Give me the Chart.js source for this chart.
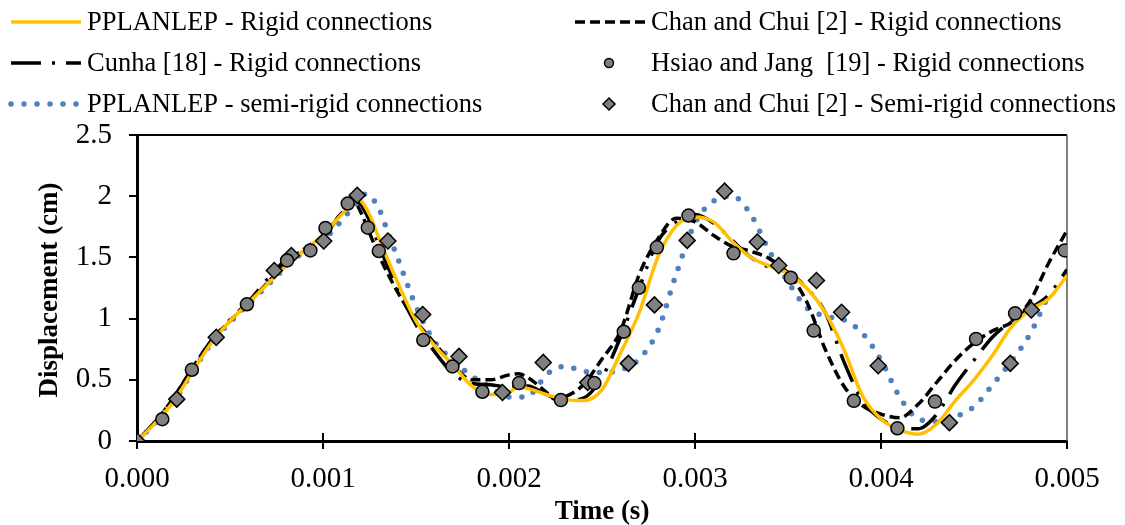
<!DOCTYPE html>
<html>
<head>
<meta charset="utf-8">
<script src="https://cdn.jsdelivr.net/npm/chart.js@4"></script>
<style>
  html, body { margin: 0; padding: 0; background: #fff; }
  #wrap { width: 1125px; height: 525px; }
</style>
</head>
<body>
<div id="wrap"><canvas id="chart"></canvas></div>
<script>
// time (s) and displacement (cm)
const timeRigid = [0, 0.0001, 0.0002, 0.0003, 0.0004, 0.0005, 0.0006, 0.0007, 0.0008, 0.0009, 0.001, 0.0011, 0.00119, 0.00125, 0.0013, 0.0014, 0.0015, 0.0016, 0.0017, 0.0018, 0.0019, 0.002, 0.00205, 0.0021, 0.0022, 0.0023, 0.0024, 0.0025, 0.0026, 0.0027, 0.0028, 0.0029, 0.003, 0.0031, 0.0032, 0.0033, 0.0034, 0.0035, 0.0036, 0.0037, 0.0038, 0.0039, 0.004, 0.0041, 0.0042, 0.0043, 0.0044, 0.0045, 0.0046, 0.0047, 0.0048, 0.0049, 0.005];
const pplanlepRigid = [0, 0.15, 0.33, 0.57, 0.80, 0.98, 1.13, 1.28, 1.43, 1.56, 1.68, 1.85, 1.97, 1.85, 1.66, 1.30, 0.98, 0.78, 0.62, 0.45, 0.38, 0.40, 0.44, 0.43, 0.38, 0.34, 0.33, 0.42, 0.72, 1.05, 1.50, 1.76, 1.83, 1.79, 1.63, 1.50, 1.43, 1.37, 1.25, 1.05, 0.75, 0.37, 0.18, 0.09, 0.055, 0.14, 0.33, 0.50, 0.70, 0.93, 1.07, 1.16, 1.35];

const timeChan = [0, 0.0001, 0.0002, 0.0003, 0.0004, 0.0005, 0.0006, 0.0007, 0.0008, 0.0009, 0.001, 0.0011, 0.00117, 0.0012, 0.00125, 0.0013, 0.0014, 0.0015, 0.0016, 0.0017, 0.0018, 0.0019, 0.002, 0.00205, 0.0021, 0.0022, 0.00225, 0.0023, 0.0024, 0.0025, 0.0026, 0.0027, 0.0028, 0.0029, 0.003, 0.0031, 0.0032, 0.0033, 0.0034, 0.0035, 0.0036, 0.0037, 0.0038, 0.0039, 0.004, 0.0041, 0.0042, 0.0043, 0.0044, 0.0045, 0.0046, 0.0047, 0.0048, 0.0049, 0.005];
const chanRigid = [0, 0.16, 0.36, 0.60, 0.82, 0.98, 1.13, 1.29, 1.45, 1.57, 1.68, 1.86, 1.95, 1.88, 1.70, 1.52, 1.22, 0.98, 0.80, 0.62, 0.50, 0.50, 0.54, 0.55, 0.52, 0.40, 0.34, 0.36, 0.46, 0.67, 0.90, 1.36, 1.65, 1.82, 1.79, 1.68, 1.59, 1.55, 1.49, 1.37, 1.14, 0.75, 0.45, 0.29, 0.22, 0.19, 0.30, 0.48, 0.66, 0.80, 0.90, 0.97, 1.14, 1.45, 1.72];

const timeCunha = [0, 0.0001, 0.0002, 0.0003, 0.0004, 0.0005, 0.0006, 0.0007, 0.0008, 0.0009, 0.001, 0.0011, 0.00118, 0.00125, 0.0013, 0.0014, 0.0015, 0.0016, 0.0017, 0.0018, 0.0019, 0.002, 0.0021, 0.0022, 0.0023, 0.0024, 0.0025, 0.0026, 0.0027, 0.0028, 0.0029, 0.003, 0.0031, 0.0032, 0.0033, 0.0034, 0.0035, 0.0036, 0.0037, 0.0038, 0.0039, 0.004, 0.0041, 0.0042, 0.0043, 0.0044, 0.0045, 0.0046, 0.0047, 0.0048, 0.0049, 0.005];
const cunhaRigid = [0, 0.16, 0.36, 0.60, 0.82, 0.99, 1.14, 1.32, 1.48, 1.55, 1.66, 1.86, 1.96, 1.80, 1.60, 1.25, 0.95, 0.73, 0.55, 0.47, 0.46, 0.44, 0.45, 0.38, 0.33, 0.35, 0.52, 0.85, 1.25, 1.63, 1.79, 1.85, 1.78, 1.64, 1.50, 1.42, 1.38, 1.25, 1.05, 0.65, 0.33, 0.18, 0.11, 0.10, 0.22, 0.46, 0.66, 0.85, 0.98, 1.08, 1.19, 1.40];

const timeSemi = [0, 0.0001, 0.0002, 0.0003, 0.0004, 0.0005, 0.0006, 0.0007, 0.0008, 0.0009, 0.001, 0.0011, 0.0012, 0.00123, 0.0013, 0.00135, 0.0014, 0.0015, 0.0016, 0.0017, 0.0018, 0.0019, 0.002, 0.0021, 0.00215, 0.0022, 0.0023, 0.0024, 0.0025, 0.0026, 0.0027, 0.0028, 0.0029, 0.003, 0.0031, 0.0032, 0.0033, 0.0034, 0.0035, 0.0036, 0.0037, 0.0038, 0.0039, 0.004, 0.0041, 0.0042, 0.0043, 0.0044, 0.0045, 0.0046, 0.0047, 0.0048, 0.0049];
const pplanlepSemi = [0, 0.15, 0.33, 0.57, 0.80, 0.97, 1.12, 1.27, 1.42, 1.55, 1.64, 1.80, 1.98, 2.02, 1.90, 1.70, 1.50, 1.10, 0.81, 0.66, 0.53, 0.44, 0.36, 0.36, 0.44, 0.54, 0.61, 0.57, 0.56, 0.58, 0.67, 0.90, 1.37, 1.78, 1.96, 2.00, 1.85, 1.55, 1.30, 1.09, 1.02, 0.99, 0.88, 0.66, 0.36, 0.18, 0.16, 0.20, 0.28, 0.46, 0.65, 0.87, 1.19];

const timeHsiao = [0.000136, 0.000295, 0.000591, 0.000807, 0.000932, 0.001013, 0.001133, 0.001241, 0.0013, 0.001539, 0.001696, 0.001857, 0.002054, 0.002279, 0.002459, 0.002617, 0.002698, 0.002795, 0.002965, 0.003207, 0.003515, 0.003638, 0.003854, 0.004088, 0.00429, 0.004511, 0.004721, 0.004988];
const hsiaoRigid = [0.178, 0.582, 1.117, 1.475, 1.557, 1.74, 1.94, 1.743, 1.552, 0.825, 0.609, 0.402, 0.473, 0.334, 0.473, 0.893, 1.252, 1.582, 1.842, 1.533, 1.334, 0.902, 0.328, 0.104, 0.322, 0.834, 1.043, 1.557];

const timeChanSemi = [0, 0.000214, 0.000426, 0.000738, 0.00083, 0.001004, 0.001184, 0.001349, 0.001536, 0.001731, 0.001965, 0.002184, 0.002423, 0.002642, 0.002782, 0.002958, 0.003159, 0.003335, 0.00345, 0.003653, 0.003788, 0.003985, 0.004368, 0.004695, 0.004808];
const chanSemi = [0, 0.342, 0.847, 1.393, 1.516, 1.634, 2.008, 1.634, 1.033, 0.691, 0.396, 0.642, 0.478, 0.634, 1.112, 1.639, 2.041, 1.626, 1.434, 1.311, 1.052, 0.615, 0.150, 0.634, 1.071];

const xTickLabels = ['0.000', '0.001', '0.002', '0.003', '0.004', '0.005'];
const yTickLabels = ['0', '0.5', '1', '1.5', '2', '2.5'];

const pts = (xs, ys) => xs.map((x, i) => ({x, y: ys[i]}));

const lineBase = {
    pointRadius: 0,
    fill: false,
    cubicInterpolationMode: 'monotone',
    order: 2
};

const datasets = [
    { ...lineBase, label: 'PPLANLEP - Rigid connections', data: pts(timeRigid, pplanlepRigid),
      borderColor: '#FFC000', borderWidth: 3.5 },
    { ...lineBase, label: 'Chan and Chui [2] - Rigid connections', data: pts(timeChan, chanRigid),
      borderColor: '#000', borderWidth: 3.5, borderDash: [10, 5] },
    { ...lineBase, label: 'Cunha [18] - Rigid connections', data: pts(timeCunha, cunhaRigid),
      borderColor: '#000', borderWidth: 3.5, borderDash: [30, 11, 3, 11] },
    { label: 'Hsiao and Jang  [19] - Rigid connections', data: pts(timeHsiao, hsiaoRigid),
      showLine: false, pointStyle: 'circle', pointRadius: 6.5, pointBorderWidth: 1.5,
      pointBackgroundColor: '#808080', pointBorderColor: '#000', backgroundColor: '#808080', borderColor: '#000', order: 0 },
    { ...lineBase, label: 'PPLANLEP - semi-rigid connections', data: pts(timeSemi, pplanlepSemi),
      borderColor: '#4F81BD', borderWidth: 5.5, borderDash: [0, 13], borderCapStyle: 'round' },
    { label: 'Chan and Chui [2] - Semi-rigid connections', data: pts(timeChanSemi, chanSemi),
      showLine: false, pointStyle: 'rectRot', pointRadius: 8, pointBorderWidth: 1.5,
      pointBackgroundColor: '#808080', pointBorderColor: '#000', backgroundColor: '#808080', borderColor: '#000', order: 1 }
];

const serif = "'Liberation Serif', 'Times New Roman', serif";

const extras = {
    id: 'extras',
    beforeDatasetsDraw(chart) {
        const {ctx, chartArea: a, scales} = chart;
        ctx.save();
        ctx.strokeStyle = '#000';
        ctx.lineWidth = 2;
        ctx.beginPath();
        ctx.moveTo(a.left - 8, a.top);
        ctx.lineTo(a.right, a.top);
        ctx.stroke();
        ctx.strokeStyle = '#555';
        ctx.lineWidth = 1.5;
        ctx.beginPath();
        ctx.moveTo(a.right, a.top);
        ctx.lineTo(a.right, a.bottom);
        ctx.stroke();
        // upper half of the x tick marks
        ctx.strokeStyle = '#000';
        ctx.lineWidth = 2;
        scales.x.ticks.forEach(t => {
            const px = scales.x.getPixelForValue(t.value);
            if (px <= a.left + 2 || px >= a.right - 2) return;
            ctx.beginPath();
            ctx.moveTo(px, a.bottom);
            ctx.lineTo(px, a.bottom - 8);
            ctx.stroke();
        });
        ctx.restore();
    },
    afterDraw(chart) {
        const {ctx, chartArea: a} = chart;
        const ds = chart.data.datasets;
        ctx.save();
        // axis titles
        ctx.fillStyle = '#000';
        ctx.font = 'bold 27px ' + serif;
        ctx.textAlign = 'center';
        ctx.textBaseline = 'middle';
        ctx.fillText('Time (s)', (a.left + a.right) / 2, 512);
        ctx.save();
        ctx.translate(50, 290);
        ctx.rotate(-Math.PI / 2);
        ctx.fillText('Displacement (cm)', 0, 0);
        ctx.restore();

        // legend: two columns, three rows
        const cols = [{x0: 11, x1: 81, tx: 87, items: [0, 2, 4]}, {x0: 575, x1: 645, tx: 651, items: [1, 3, 5]}];
        const rowY = [22, 63, 104];
        ctx.font = '26.5px ' + serif;
        ctx.textAlign = 'left';
        cols.forEach(c => {
            c.items.forEach((idx, r) => {
                const d = ds[idx];
                const y = rowY[r];
                if (d.showLine === false) {
                    ctx.fillStyle = d.pointBackgroundColor;
                    ctx.strokeStyle = d.pointBorderColor;
                    ctx.lineWidth = d.pointBorderWidth;
                    ctx.setLineDash([]);
                    Chart.helpers.drawPoint(ctx, {pointStyle: d.pointStyle, radius: d.pointRadius - 2, rotation: 0, borderWidth: d.pointBorderWidth}, 609, y);
                } else {
                    ctx.strokeStyle = d.borderColor;
                    ctx.lineWidth = d.borderWidth;
                    ctx.lineCap = d.borderCapStyle || 'butt';
                    ctx.setLineDash(d.borderDash || []);
                    ctx.beginPath();
                    ctx.moveTo(c.x0, y);
                    ctx.lineTo(c.x1, y);
                    ctx.stroke();
                }
                ctx.setLineDash([]);
                ctx.fillStyle = '#000';
                ctx.fillText(d.label, c.tx, y + 1);
            });
        });
        ctx.restore();
    }
};

new Chart(document.getElementById('chart'), {
    type: 'line',
    data: { datasets },
    options: {
        responsive: true,
        maintainAspectRatio: false,
        animation: false,
        layout: { padding: { top: 135, right: 58, left: 0, bottom: 0 } },
        plugins: { legend: { display: false }, tooltip: { enabled: false } },
        scales: {
            x: {
                type: 'linear', min: 0, max: 0.005,
                afterFit: s => { s.height = 84; },
                afterBuildTicks: s => { s.ticks = xTickLabels.map(v => ({value: parseFloat(v)})); },
                border: { display: true, color: '#000', width: 3 },
                grid: { drawOnChartArea: false, drawTicks: true, tickLength: 8, color: '#000', lineWidth: 2 },
                ticks: { color: '#000', font: { family: serif, size: 29 }, padding: 13,
                         maxRotation: 0, callback: (v, i) => xTickLabels[i] }
            },
            y: {
                min: 0, max: 2.5,
                afterFit: s => { s.width = 137; },
                afterBuildTicks: s => { s.ticks = yTickLabels.map(v => ({value: parseFloat(v)})); },
                border: { display: true, color: '#000', width: 3 },
                grid: { drawOnChartArea: false, drawTicks: true, tickLength: 8, color: '#000', lineWidth: 2 },
                ticks: { color: '#000', font: { family: serif, size: 29 }, padding: 17,
                         callback: (v, i) => yTickLabels[i] }
            }
        }
    },
    plugins: [extras]
});
</script>
</body>
</html>
